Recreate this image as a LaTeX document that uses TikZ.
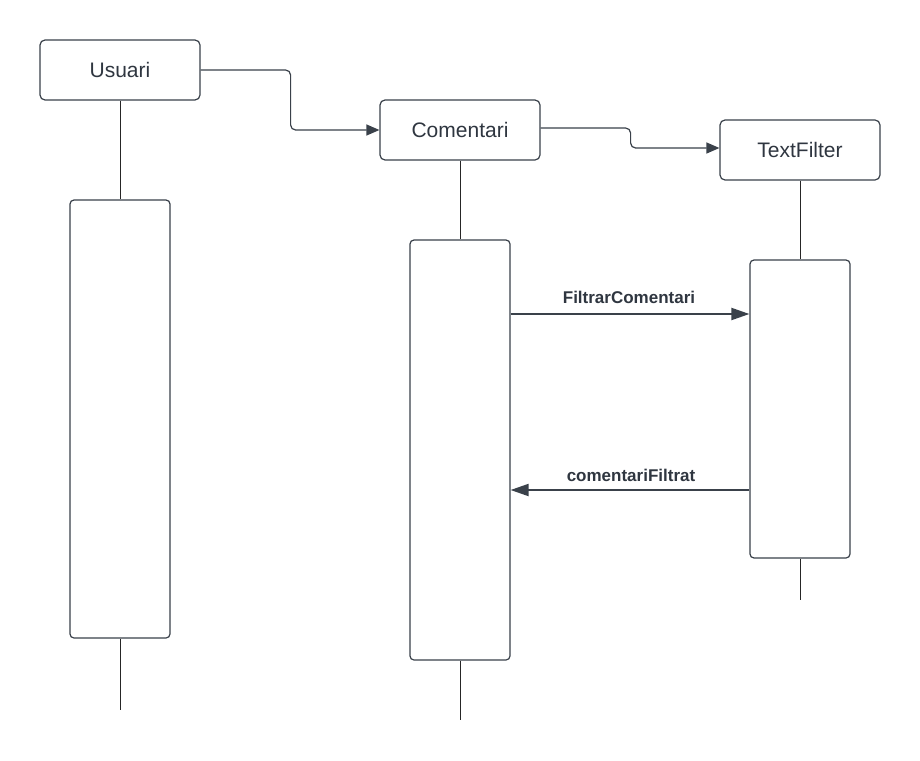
\documentclass[tikz,border=0pt]{standalone}
\usepackage{fontspec}
\setmainfont{Liberation Sans}
\usetikzlibrary{arrows.meta,calc}
\definecolor{ln}{HTML}{3A414A}
\definecolor{tx}{HTML}{2F3640}
\tikzset{
  objbox/.style={draw=ln, line width=1.2pt, rounded corners=5pt, minimum width=160pt, minimum height=60pt, inner sep=0pt, text=tx, font=\fontsize{21}{25}\selectfont},
  actbox/.style={draw=ln, line width=1.2pt, rounded corners=4pt, minimum width=100pt, inner sep=0pt, fill=white},
  life/.style={draw=black!85, line width=1pt},
  conn/.style={draw=ln, line width=1.2pt, rounded corners=5pt, -{Triangle[length=13pt,width=11pt]}},
  msg/.style={draw=ln, line width=2pt, -{Triangle[length=18pt,width=12pt]}},
  lbl/.style={text=tx, font=\fontsize{17}{20}\selectfont\bfseries, inner sep=0pt}
}
\begin{document}
\begin{tikzpicture}[x=1pt,y=-1pt]
\useasboundingbox (0,0) rectangle (920,760);
\fill[white] (0,0) rectangle (920,760);
% objects
\node[objbox] (usuari) at (120,70) {Usuari};
\node[objbox] (coment) at (460,130) {Comentari};
\node[objbox] (tf) at (800,150) {TextFilter};
% lifeline ends
\coordinate (endU) at (120,710);
\coordinate (endC) at (460,720);
\coordinate (endT) at (800,600);
% activations
\node[actbox, minimum height=438pt] (actU) at (120,419) {};
\node[actbox, minimum height=420pt] (actC) at (460,450) {};
\node[actbox, minimum height=298pt] (actT) at (800,409) {};
% lifelines
\draw[life] (usuari.south) -- (actU.north);
\draw[life] (actU.south) -- (endU);
\draw[life] (coment.south) -- (actC.north);
\draw[life] (actC.south) -- (endC);
\draw[life] (tf.south) -- (actT.north);
\draw[life] (actT.south) -- (endT);
% connectors between objects
\draw[conn] (usuari.east) -- ++(90,0) |- (coment.west);
\draw[conn] ([yshift=2pt]coment.east) -- ++(90,0) |- ([yshift=2pt]tf.west);
% messages
\coordinate (m1) at (0,314);
\coordinate (m2) at (0,490);
\draw[msg] (actC.east |- m1) -- (actT.west |- m1);
\draw[msg] (actT.west |- m2) -- (actC.east |- m2);
\node[lbl] (l1) at (629,297) {FiltrarComentari};
\node[lbl] (l2) at (631,475) {comentariFiltrat};
\end{tikzpicture}
\end{document}
